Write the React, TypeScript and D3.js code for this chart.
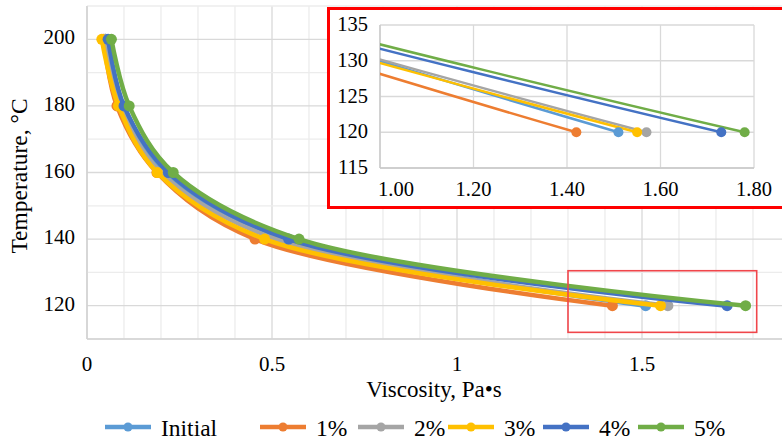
import React from 'react';
import * as d3 from 'd3';

// temperatures (°C) and viscosity (Pa·s)
const temperatures = [200, 180, 160, 140, 120];
const seriesNames = ['Initial', '1%', '2%', '3%', '4%', '5%'];
const initialVisc = [0.05, 0.095, 0.21, 0.54, 1.51];
const pct1Visc = [0.045, 0.081, 0.189, 0.454, 1.42];
const pct2Visc = [0.05, 0.09, 0.2, 0.51, 1.57];
const pct3Visc = [0.04, 0.085, 0.19, 0.48, 1.55];
const pct4Visc = [0.057, 0.1, 0.22, 0.545, 1.73];
const pct5Visc = [0.066, 0.114, 0.233, 0.573, 1.78];
const colors = ['#5B9BD5', '#ED7D31', '#A5A5A5', '#FFC000', '#4472C4', '#70AD47'];

const mainXTicks = [0, 0.5, 1, 1.5];
const mainYTicks = [120, 140, 160, 180, 200];
const insetXTicks = [1.0, 1.2, 1.4, 1.6, 1.8];
const insetYTicks = [115, 120, 125, 130, 135];
// zoomed region marked on the main chart (data units)
const zoomBox = { x0: 1.3, x1: 1.81, y0: 112, y1: 130.5 };

const W = 782;
const H = 440;
const FONT = "Liberation Serif, DejaVu Serif, Times, serif";

const series = [initialVisc, pct1Visc, pct2Visc, pct3Visc, pct4Visc, pct5Visc].map((v, i) => ({
  name: seriesNames[i],
  color: colors[i],
  points: v.map((x, j) => ({ x, t: temperatures[j] })),
}));

const App = () => {
  // main plot
  const x = d3.scaleLinear().domain([0, 2]).range([87, 827]);
  const y = d3.scaleLinear().domain([110, 210]).range([339, 6]);
  const line = d3.line<{ x: number; t: number }>()
    .x(d => x(d.x))
    .y(d => y(d.t))
    .curve(d3.curveCatmullRom.alpha(0.5));

  // inset plot (smoothing is milder there, as in the original)
  const ix = d3.scaleLinear().domain([1.0, 1.8]).range([380, 754]);
  const iy = d3.scaleLinear().domain([115, 135]).range([168, 25]);
  const iline = d3.line<{ x: number; t: number }>()
    .x(d => ix(d.x))
    .y(d => iy(d.t))
    .curve(d3.curveCardinal.tension(0.4));

  const vGrid = d3.range(0, 20).map(i => i / 10);
  const hGrid = d3.range(110, 211, 10);

  const legendX = [105, 260, 358, 448, 543, 638];

  return (
    <svg width={W} height={H} fontFamily={FONT} style={{ position: 'absolute', left: 0, top: 0, background: '#fff' }}>
      <defs>
        <clipPath id="insetClip">
          <rect x={380} y={25} width={374} height={143} />
        </clipPath>
      </defs>

      {/* main grid */}
      <g>
        {vGrid.map((v, i) => (
          <line key={'v' + i} x1={x(v)} x2={x(v)} y1={6} y2={339}
            stroke={i % 5 === 0 ? '#d9d9d9' : '#ececec'} strokeWidth={1.3} />
        ))}
        {hGrid.map((v, i) => (
          <line key={'h' + i} x1={87} x2={W} y1={y(v)} y2={y(v)}
            stroke={v % 20 === 0 ? '#d9d9d9' : '#ececec'} strokeWidth={1.3} />
        ))}
        <line x1={87} x2={87} y1={6} y2={339} stroke="#d0d0d0" strokeWidth={1.3} />
        <line x1={87} x2={W} y1={339} y2={339} stroke="#d0d0d0" strokeWidth={1.3} />
      </g>

      {/* main series */}
      <g>
        {series.map(s => (
          <g key={s.name}>
            <path d={line(s.points) || ''} fill="none" stroke={s.color} strokeWidth={4.5} strokeLinejoin="round" />
            {s.points.map((p, j) => (
              <circle key={j} cx={x(p.x)} cy={y(p.t)} r={5.5} fill={s.color} />
            ))}
          </g>
        ))}
      </g>

      {/* main ticks */}
      <g fontSize={21} fill="#000" fontFamily={FONT}>
        {mainYTicks.map(t => (
          <text key={t} x={75} y={y(t) + 5} textAnchor="end">{t}</text>
        ))}
        {mainXTicks.map(t => (
          <text key={t} x={x(t)} y={371} textAnchor="middle">{t}</text>
        ))}
      </g>

      {/* axis titles */}
      <text x={434} y={397} fontSize={23} textAnchor="middle" fill="#000" fontFamily={FONT}>Viscosity, Pa•s</text>
      <text transform="translate(27,176) rotate(-90)" fontSize={23.5} textAnchor="middle" fill="#000" fontFamily={FONT}>Temperature, °C</text>

      {/* zoom marker */}
      <rect x={x(zoomBox.x0)} y={y(zoomBox.y1)} width={x(zoomBox.x1) - x(zoomBox.x0)}
        height={y(zoomBox.y0) - y(zoomBox.y1)} fill="none" stroke="#f0464b" strokeWidth={1.6} />

      {/* inset */}
      <rect x={328.5} y={8.5} width={460} height={199} fill="#fff" stroke="#ff0000" strokeWidth={3} />
      <g>
        {insetXTicks.map(t => (
          <line key={'iv' + t} x1={ix(t)} x2={ix(t)} y1={25} y2={168} stroke="#d9d9d9" strokeWidth={1.3} />
        ))}
        {insetYTicks.map(t => (
          <line key={'ih' + t} x1={380} x2={754} y1={iy(t)} y2={iy(t)} stroke="#d9d9d9" strokeWidth={1.3} />
        ))}
        <line x1={380} x2={380} y1={25} y2={168} stroke="#c8c8c8" strokeWidth={1.3} />
        <line x1={380} x2={754} y1={168} y2={168} stroke="#c8c8c8" strokeWidth={1.3} />
      </g>
      <g clipPath="url(#insetClip)">
        {series.map(s => (
          <path key={s.name} d={iline(s.points) || ''} fill="none" stroke={s.color} strokeWidth={2.5} />
        ))}
      </g>
      <g>
        {series.map(s => (
          <g key={s.name}>
            {s.points.filter(p => p.x >= 1 && p.x <= 1.8 && p.t >= 115 && p.t <= 135).map((p, j) => (
              <circle key={j} cx={ix(p.x)} cy={iy(p.t)} r={5} fill={s.color} />
            ))}
          </g>
        ))}
      </g>
      <g fontSize={20.5} fill="#000" fontFamily={FONT}>
        {insetYTicks.map(t => (
          <text key={t} x={368} y={iy(t) + 6} textAnchor="end">{t}</text>
        ))}
        {insetXTicks.map((t, i) => (
          <text key={t} x={i === 0 ? ix(t) - 2 : ix(t)} y={196} textAnchor={i === 0 ? 'start' : 'middle'}>
            {t.toFixed(2)}
          </text>
        ))}
      </g>

      {/* legend */}
      <g fontSize={23.5} fill="#000" fontFamily={FONT}>
        {series.map((s, i) => (
          <g key={s.name} transform={`translate(${legendX[i]},427)`}>
            <line x1={0} x2={46} y1={0} y2={0} stroke={s.color} strokeWidth={4.5} />
            <circle cx={23} cy={0} r={4.5} fill={s.color} />
            <text x={56} y={9}>{s.name}</text>
          </g>
        ))}
      </g>
    </svg>
  );
};

export default App;
